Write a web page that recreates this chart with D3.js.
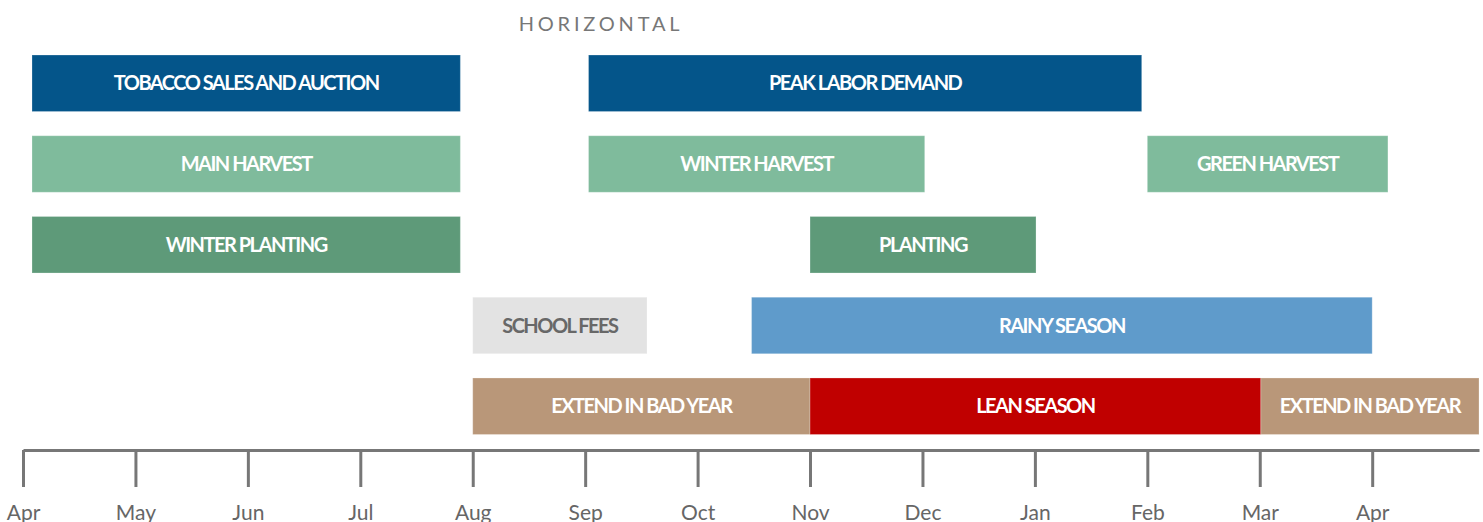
<!DOCTYPE html>
<html>
<head>
<meta charset="utf-8">
<script src="https://cdn.jsdelivr.net/npm/d3@7"></script>
<style>
  body { margin: 0; background: #fff; }
  svg { display: block; font-family: Lato, "Open Sans", sans-serif; }
  .bar-label { font-weight: 700; font-size: 20px; letter-spacing: -1.5px; }
  .axis text { font-size: 21px; fill: #666; font-family: Lato, sans-serif; }
  .axis path, .axis line { stroke: #777; stroke-width: 3; }
</style>
</head>
<body>
<script>
// months from April (0) to April of the next year (12)
var monthLabels = ["Apr", "May", "Jun", "Jul", "Aug", "Sep", "Oct", "Nov", "Dec", "Jan", "Feb", "Mar", "Apr"];

var taskNames = ["TOBACCO SALES AND AUCTION", "PEAK LABOR DEMAND",
                 "MAIN HARVEST", "WINTER HARVEST", "GREEN HARVEST",
                 "WINTER PLANTING", "PLANTING",
                 "SCHOOL FEES", "RAINY SEASON",
                 "EXTEND IN BAD YEAR", "LEAN SEASON", "EXTEND IN BAD YEAR"];
var taskRows   = [0, 0, 1, 1, 1, 2, 2, 3, 3, 4, 4, 4];
var taskStarts = [0.08, 5.03, 0.08, 5.03, 10.0, 0.08, 7.0, 4.0, 6.48, 4.0, 7.0, 11.01];
var taskEnds   = [3.89, 9.95, 3.89, 8.02, 12.14, 3.89, 9.01, 5.55, 12.0, 7.0, 11.01, 12.95];
var taskKinds  = ["labor", "labor", "harvest", "harvest", "harvest", "planting", "planting",
                  "fees", "rain", "extend", "lean", "extend"];

var kindColor = {
  labor: "#04558a", harvest: "#7fbb9c", planting: "#5e9a79", fees: "#e3e3e3",
  rain: "#5f9bcb", extend: "#b99779", lean: "#c00000"
};
var kindText = { fees: "#686868" };

var width = 1483, height = 522;

var svg = d3.select("body").append("svg")
  .attr("width", width)
  .attr("height", height);

var x = d3.scaleLinear()
  .domain([0, 12.95])
  .range([23, 1479]);

var y = d3.scaleBand()
  .domain(d3.range(5))
  .range([55, 434.5])
  .paddingInner(0.3)
  .paddingOuter(0);

svg.append("text")
  .attr("x", 601)
  .attr("y", 31)
  .attr("text-anchor", "middle")
  .style("font-size", "20px")
  .style("letter-spacing", "3.8px")
  .style("fill", "#777")
  .text("HORIZONTAL");

var tasks = taskNames.map(function (n, i) {
  return { name: n, row: taskRows[i], start: taskStarts[i], end: taskEnds[i], kind: taskKinds[i] };
});

var bars = svg.append("g").selectAll("g")
  .data(tasks)
  .enter().append("g");

bars.append("rect")
  .attr("x", function (d) { return x(d.start); })
  .attr("y", function (d) { return y(d.row); })
  .attr("width", function (d) { return x(d.end) - x(d.start); })
  .attr("height", y.bandwidth())
  .style("fill", function (d) { return kindColor[d.kind]; })
  .style("stroke", "rgba(255,255,255,0.25)")
  .style("stroke-width", 1);

bars.append("text")
  .attr("class", "bar-label")
  .attr("x", function (d) { return (x(d.start) + x(d.end)) / 2; })
  .attr("y", function (d) { return y(d.row) + y.bandwidth() / 2; })
  .attr("dy", "0.36em")
  .attr("text-anchor", "middle")
  .style("fill", function (d) { return kindText[d.kind] || "#fff"; })
  .text(function (d) { return d.name; });

// month axis
var xAxis = d3.axisBottom(x)
  .tickValues(d3.range(monthLabels.length))
  .tickFormat(function (i) { return monthLabels[i]; })
  .tickSize(37)
  .tickSizeOuter(0)
  .tickPadding(18);

svg.append("g")
  .attr("class", "axis")
  .attr("transform", "translate(0,450)")
  .call(xAxis);
</script>
</body>
</html>
